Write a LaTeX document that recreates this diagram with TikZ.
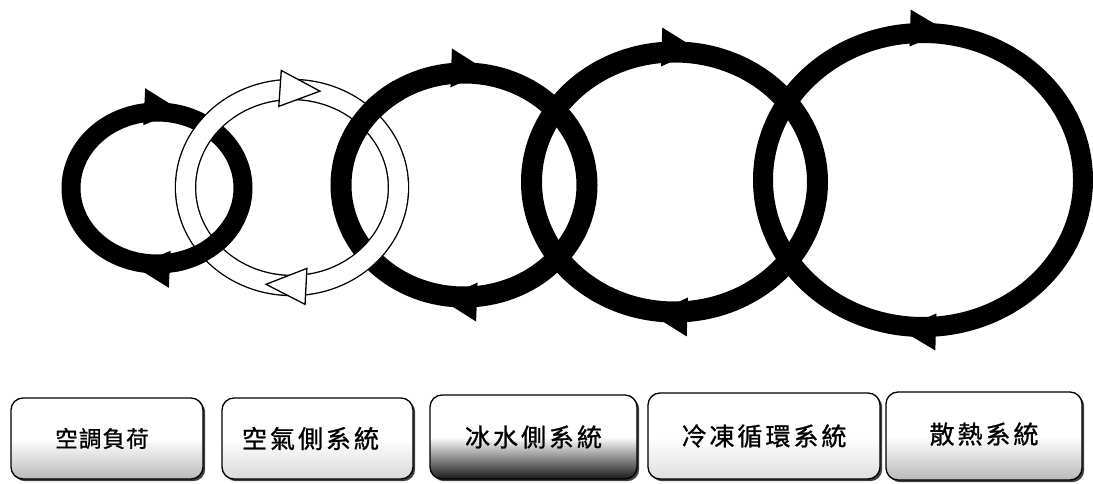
\documentclass[tikz,border=0pt]{standalone}
\usepackage{fontspec}
\newfontfamily\cjk[FakeBold=1.0]{Noto Sans CJK TC}
\usetikzlibrary{shadows}
\newcommand\gapA{\hspace{1.2pt}}
\newcommand\gapB{\hspace{3pt}}
% arrow head placed on an ellipse at parameter angle #5 (clockwise direction)
\newcommand\tipat[7]{%
  \pgfmathsetmacro\tipx{#1+#3*cos(#5)}%
  \pgfmathsetmacro\tipy{#2+#4*sin(#5)}%
  \pgfmathsetmacro\tipa{atan2(-(#4)*cos(#5),(#3)*sin(#5))}%
  \path[#6, shift={(\tipx,\tipy)}, rotate=\tipa] #7;
}
\tikzset{
  bring/.style={draw=black, line width=#1},
  blackhead/.style={fill=black},
  openhead/.style={fill=white, draw=black, line width=1.3pt, line join=miter},
  lbox/.style={draw=black, line width=1.3pt, rounded corners=12pt,
    top color=white, bottom color=#1, middle color=white,
    drop shadow={shadow xshift=2.2pt, shadow yshift=-2.2pt, fill=black!75, opacity=1},
    inner sep=0pt},
  bigtxt/.style={font=\cjk\fontsize{25}{25}\selectfont},
  smalltxt/.style={font=\cjk\fontsize{22.5}{22.5}\selectfont}
}
\begin{document}
\begin{tikzpicture}[x=1pt,y=1pt]
\useasboundingbox (0,0) rectangle (1093,483);
\fill[white] (0,0) rectangle (1093,483);

% ---- ring 1 (small, black)
\draw[bring=19pt] (157,295) ellipse[x radius=86, y radius=76];
\tipat{157}{295}{86}{76}{acos(5/86)}{blackhead}{(-18,-14) -- (18,3) -- (-18,23) -- cycle}
\tipat{157}{295}{86}{76}{-acos(-5/86)}{blackhead}{(-18,-14) -- (18,3) -- (-18,23) -- cycle}

% ---- ring 3
\draw[bring=21pt] (464,298) ellipse[x radius=123, y radius=112];
\tipat{464}{298}{123}{112}{acos(5/123)}{blackhead}{(-18,-15) -- (18,3) -- (-18,24) -- cycle}
\tipat{464}{298}{123}{112}{-acos(-5/123)}{blackhead}{(-18,-15) -- (18,3) -- (-18,24) -- cycle}

% ---- ring 4
\draw[bring=21pt] (674.5,301) ellipse[x radius=143, y radius=130];
\tipat{674.5}{301}{143}{130}{acos(5/143)}{blackhead}{(-18,-15) -- (18,3) -- (-18,24) -- cycle}
\tipat{674.5}{301}{143}{130}{-acos(-5/143)}{blackhead}{(-18,-15) -- (18,3) -- (-18,24) -- cycle}

% ---- ring 5
\draw[bring=20pt] (923,303) ellipse[x radius=160, y radius=147];
\tipat{923}{303}{160}{147}{acos(5/160)}{blackhead}{(-18,-14) -- (18,3) -- (-18,23) -- cycle}
\tipat{923}{303}{160}{147}{-acos(-5/160)}{blackhead}{(-18,-14) -- (18,3) -- (-18,23) -- cycle}

% ---- ring 2 (open band)
\draw[line width=21.5pt, black] (292,295.5) ellipse[x radius=106.5, y radius=98];
\draw[line width=18.8pt, white] (292,295.5) ellipse[x radius=106.5, y radius=98];
\tipat{292}{295.5}{106.5}{98}{acos(8/106.5)}{openhead}{(-20,-18) -- (20,0) -- (-20,18) -- cycle}
\tipat{292}{295.5}{106.5}{98}{-acos(-6/106.5)}{openhead}{(-20,-18) -- (20,0) -- (-20,18) -- cycle}

% ---- interlocking: ring 1 over ring 2 at bottom, ring 3 over ring 2 at top
\draw[bring=19pt] (157,295) ++(-28:86 and 76) arc[start angle=-28, end angle=-78, x radius=86, y radius=76];
\draw[bring=21pt] (464,298) ++(122:123 and 112) arc[start angle=122, end angle=162, x radius=123, y radius=112];

% ---- labels
\node[lbox=gray!55, minimum width=192pt, minimum height=81pt, smalltxt] (b1) at (107,44.5)
  {\hspace*{-10pt}空\gapA 調\gapA 負\gapA 荷};
\node[lbox=gray!30, minimum width=191pt, minimum height=81pt, bigtxt] (b2) at (317.5,44.5)
  {\hspace*{-14pt}空\gapB 氣\gapB 側\gapB 系\gapB 統};
\node[lbox=black!90, minimum width=207pt, minimum height=84pt, bigtxt] (b3) at (533.5,46)
  {冰\gapB 水\gapB 側\gapB 系\gapB 統};
\node[lbox=gray!25, minimum width=232pt, minimum height=86pt, bigtxt] (b4) at (764,47)
  {\raisebox{2pt}{冷\gapB 凍\gapB 循\gapB 環\gapB 系\gapB 統}};
\node[lbox=gray!55, minimum width=196pt, minimum height=88pt, bigtxt] (b5) at (984,47)
  {\raisebox{6pt}{散\gapB 熱\gapB 系\gapB 統}};
\end{tikzpicture}
\end{document}
